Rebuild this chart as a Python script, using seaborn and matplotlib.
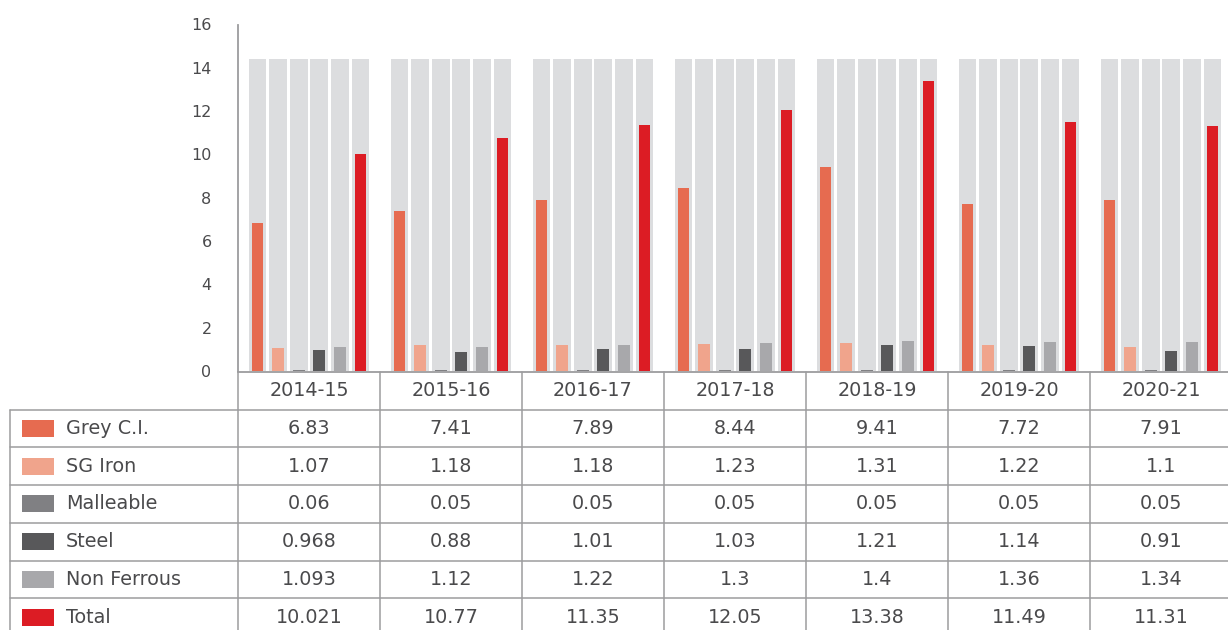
import matplotlib
matplotlib.use("Agg")
import matplotlib.pyplot as plt
import seaborn as sns
import pandas as pd
from matplotlib.patches import Rectangle

# data
years = ["2014-15", "2015-16", "2016-17", "2017-18", "2018-19", "2019-20", "2020-21"]
series = ["Grey C.I.", "SG Iron", "Malleable", "Steel", "Non Ferrous", "Total"]
grey_ci = [6.83, 7.41, 7.89, 8.44, 9.41, 7.72, 7.91]
sg_iron = [1.07, 1.18, 1.18, 1.23, 1.31, 1.22, 1.1]
malleable = [0.06, 0.05, 0.05, 0.05, 0.05, 0.05, 0.05]
steel = [0.968, 0.88, 1.01, 1.03, 1.21, 1.14, 0.91]
non_ferrous = [1.093, 1.12, 1.22, 1.3, 1.4, 1.36, 1.34]
total = [10.021, 10.77, 11.35, 12.05, 13.38, 11.49, 11.31]
bg_height = 14.4
yticks = [0, 2, 4, 6, 8, 10, 12, 14, 16]

colors = ["#E66B50", "#F0A48C", "#808083", "#58585A", "#A8A8AB", "#DC1C24"]
bg_color = "#DCDDDF"
line_color = "#9C9C9E"
text_color = "#4A4A4C"

values = [grey_ci, sg_iron, malleable, steel, non_ferrous, total]
rows = []
for s, vals in zip(series, values):
    for y, v in zip(years, vals):
        rows.append({"year": y, "series": s, "value": v, "bg": bg_height})
df = pd.DataFrame(rows)

sns.set_style("white")
plt.rcParams["font.family"] = ["DejaVu Sans"]

W, H = 1228, 630
col_w = 142
x0 = 238
y_axis = 371
y_top = 24.5
row_h = 37.7

fig = plt.figure(figsize=(W / 100, H / 100), dpi=100)
ax = fig.add_axes([x0 / W, (H - y_axis) / H, 7 * col_w / W, (y_axis - y_top) / H])

# background bars then data bars
sns.barplot(data=df, x="year", y="bg", hue="series", hue_order=series,
            palette=[bg_color] * 6, width=0.87, gap=0.13, saturation=1,
            legend=False, ax=ax, order=years, linewidth=0, edgecolor="none")
sns.barplot(data=df, x="year", y="value", hue="series", hue_order=series,
            palette=colors, width=0.87, gap=0.42, saturation=1,
            legend=False, ax=ax, order=years, linewidth=0, edgecolor="none")

ax.set_xlim(-0.5, 6.5)
ax.set_ylim(0, 16)
ax.set_yticks(yticks)
ax.set_yticklabels([str(t) for t in yticks], fontsize=11.5, color=text_color)
ax.tick_params(axis="y", length=0, pad=19)
ax.set_xticks([])
ax.set_xlabel("")
ax.set_ylabel("")
for side in ["top", "right"]:
    ax.spines[side].set_visible(False)
for side in ["left", "bottom"]:
    ax.spines[side].set_color(line_color)
    ax.spines[side].set_linewidth(1.3)
ax.spines["bottom"].set_position(("outward", 1))
ax.spines["left"].set_bounds(0, 16)

# table under the chart
n_rows = 7
y_tab = 372
t_left = -0.5 - (x0 - 10) / col_w
tax = fig.add_axes([10 / W, (H - (y_tab + n_rows * row_h)) / H,
                    (x0 + 7 * col_w - 10) / W, n_rows * row_h / H])
tax.set_xlim(t_left, 6.5)
tax.set_ylim(n_rows, 0)
tax.axis("off")

lw = 1.1
for r in range(1, n_rows):
    tax.plot([t_left, 6.5], [r, r], color=line_color, lw=lw, clip_on=False)
tax.plot([t_left, t_left], [1, n_rows], color=line_color, lw=lw, clip_on=False)
for k in range(8):
    tax.plot([k - 0.5, k - 0.5], [0, n_rows], color=line_color, lw=lw, clip_on=False)

fs = 13.8
for i, y in enumerate(years):
    tax.text(i, 0.5, y, ha="center", va="center", fontsize=fs, color=text_color)

sw_x = -0.5 + (22 - x0) / col_w
lab_x = -0.5 + (66 - x0) / col_w
sw_h = 17 / row_h
for r, (s, vals, c) in enumerate(zip(series, values, colors), start=1):
    tax.add_patch(Rectangle((sw_x, r + 0.5 - sw_h / 2), 32 / col_w, sw_h,
                            color=c, lw=0, clip_on=False))
    tax.text(lab_x, r + 0.5, s, ha="left", va="center", fontsize=fs, color=text_color)
    for i, v in enumerate(vals):
        tax.text(i, r + 0.5, str(v), ha="center", va="center", fontsize=fs,
                 color=text_color)

fig.savefig("out.png", dpi=100)
